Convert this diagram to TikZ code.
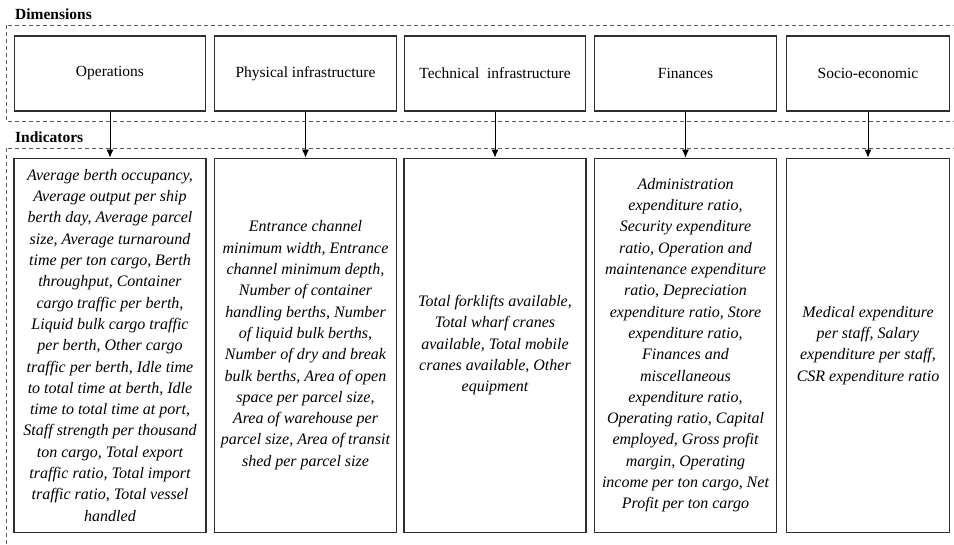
\documentclass[tikz,border=0pt]{standalone}
\usepackage{fontspec}
\setmainfont{Liberation Serif}
\usetikzlibrary{positioning,arrows.meta}
\definecolor{boxline}{HTML}{2E2E2E}
\definecolor{dashline}{HTML}{5A5A5A}

\tikzset{
  dimbox/.style={draw=boxline,line width=1.3pt,minimum height=75pt,inner sep=0pt,font=\fontsize{15.5}{19}\selectfont},
  indbox/.style={draw=boxline,line width=1.3pt,minimum height=374pt,inner sep=0pt,align=center,font=\fontsize{16}{21.3}\selectfont\itshape},
  groupframe/.style={draw=dashline,line width=0.8pt,dash pattern=on 4pt off 3pt},
  grouptitle/.style={anchor=west,inner sep=0pt,font=\fontsize{15.5}{18}\selectfont\bfseries},
  link/.style={-{Latex[length=8pt,width=7pt]},line width=1pt,black}
}

\begin{document}
\begin{tikzpicture}[x=1pt,y=-1pt]
    \clip (0,0) rectangle (954,545);

    % Dimensions
    \node[grouptitle] (dimtitle) at (15,14) {Dimensions};
    \draw[groupframe] (6,25) rectangle (970,121);
    \node[dimbox,minimum width=191pt] (dimOps) at (110,73.5) {Operations};
    \node[dimbox,minimum width=182pt] (dimPhys) at (305.5,73.5) {Physical infrastructure};
    \node[dimbox,minimum width=181pt] (dimTech) at (495,73.5) {Technical\ \ infrastructure};
    \node[dimbox,minimum width=182pt] (dimFin) at (685.5,73.5) {Finances};
    \node[dimbox,minimum width=163pt] (dimSoc) at (868,73.5) {Socio-economic};

    % Indicators
    \node[grouptitle] (indtitle) at (15,137) {Indicators};
    \draw[groupframe] (6,148) rectangle (970,580);
    \node[indbox,minimum width=192pt,below=46pt of dimOps] (indOps) {Average berth occupancy,\\Average output per ship\\berth day, Average parcel\\size, Average turnaround\\time per ton cargo, Berth\\throughput, Container\\cargo traffic per berth,\\Liquid bulk cargo traffic\\per berth, Other cargo\\traffic per berth, Idle time\\to total time at berth, Idle\\time to total time at port,\\Staff strength per thousand\\ton cargo, Total export\\traffic ratio, Total import\\traffic ratio, Total vessel\\handled};
    \node[indbox,minimum width=182pt,below=46pt of dimPhys] (indPhys) {Entrance channel\\minimum width, Entrance\\channel minimum depth,\\Number of container\\handling berths, Number\\of liquid bulk berths,\\Number of dry and break\\bulk berths, Area of open\\space per parcel size,\\Area of warehouse per\\parcel size, Area of transit\\shed per parcel size};
    \node[indbox,minimum width=182pt,below=46pt of dimTech] (indTech) {Total forklifts available,\\Total wharf cranes\\available, Total mobile\\cranes available, Other\\equipment};
    \node[indbox,minimum width=182pt,below=46pt of dimFin] (indFin) {Administration\\expenditure ratio,\\Security expenditure\\ratio, Operation and\\maintenance expenditure\\ratio, Depreciation\\expenditure ratio, Store\\expenditure ratio,\\Finances and\\miscellaneous\\expenditure ratio,\\Operating ratio, Capital\\employed, Gross profit\\margin, Operating\\income per ton cargo, Net\\Profit per ton cargo};
    \node[indbox,minimum width=163pt,below=46pt of dimSoc] (indSoc) {Medical expenditure\\per staff, Salary\\expenditure per staff,\\CSR expenditure ratio};

    % Links
    \draw[link] (dimOps) -- (indOps);
    \draw[link] (dimPhys) -- (indPhys);
    \draw[link] (dimTech) -- (indTech);
    \draw[link] (dimFin) -- (indFin);
    \draw[link] (dimSoc) -- (indSoc);
\end{tikzpicture}
\end{document}
